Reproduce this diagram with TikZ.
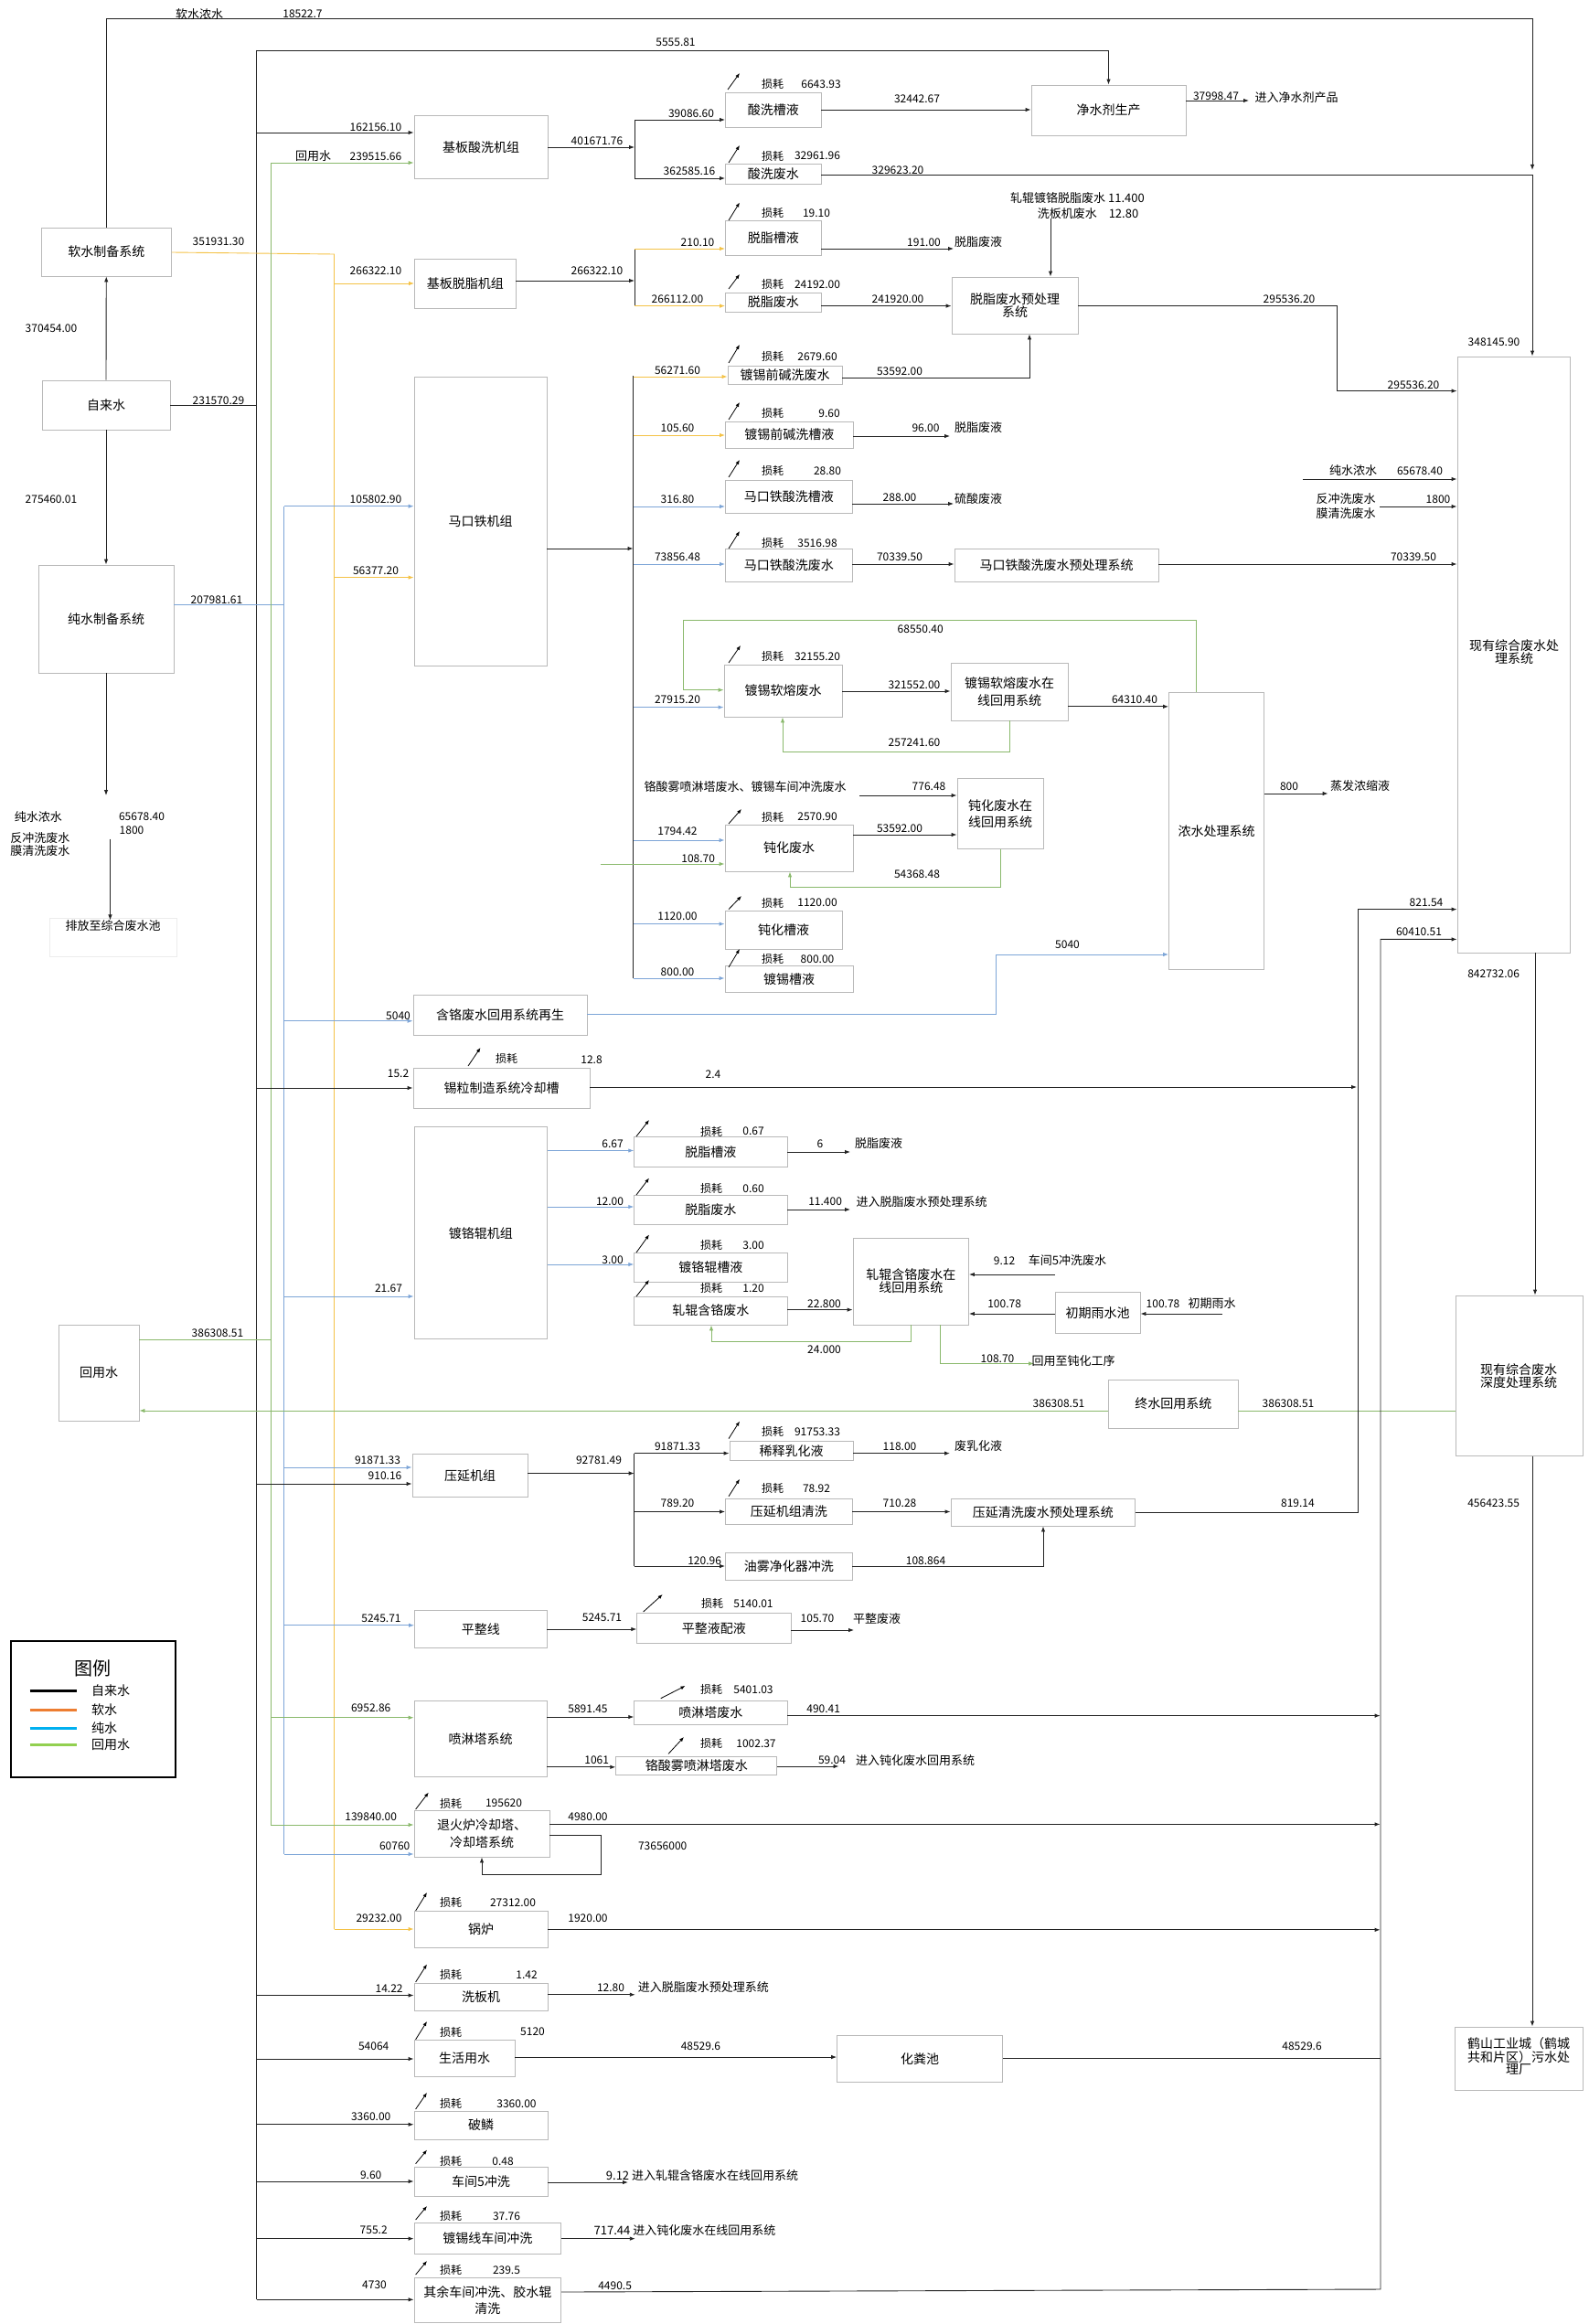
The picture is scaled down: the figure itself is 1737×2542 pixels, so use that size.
\documentclass[tikz,border=0pt]{standalone}
\usepackage{fontspec}
\setmainfont{Noto Sans CJK SC}
\usetikzlibrary{arrows.meta,positioning,calc}
\definecolor{tapc}{RGB}{35,35,35}
\definecolor{softc}{RGB}{244,194,70}
\definecolor{purec}{RGB}{125,165,215}
\definecolor{reusec}{RGB}{138,185,108}
\definecolor{boxc}{RGB}{185,185,185}
\definecolor{legblack}{RGB}{0,0,0}
\definecolor{legorange}{RGB}{237,125,49}
\definecolor{legblue}{RGB}{0,176,240}
\definecolor{leggreen}{RGB}{146,208,80}
\tikzset{
  box/.style     = {draw=boxc, line width=0.9pt, inner sep=1pt, align=center,
                    font=\fontsize{14}{15}\selectfont},
  flow/.style    = {line width=0.9pt, -{Latex[length=6pt,width=4.5pt]}},
  wire/.style    = {line width=0.9pt},
  tap/.style     = {draw=tapc},
  soft/.style    = {draw=softc},
  pure/.style    = {draw=purec},
  reuse/.style   = {draw=reusec},
  num/.style     = {inner sep=0pt, font=\fontsize{12}{12}\selectfont},
  txt/.style     = {inner sep=0pt, font=\fontsize{13}{13}\selectfont},
  lossl/.style   = {inner sep=0pt, font=\fontsize{12}{12}\selectfont},
  lossarr/.style = {line width=0.8pt, -{Latex[length=5pt,width=4pt]}},
  legtxt/.style  = {inner sep=0pt, font=\fontsize{14}{14}\selectfont},
}
% box given by its corners
\newcommand{\blk}[6]{\node[box, minimum width={(#4)-(#2)}, minimum height={(#5)-(#3)}]
  (#1) at ({((#2)+(#4))/2},{((#3)+(#5))/2}) {#6};}
\newcommand{\numat}[3]{\node[num] at (#1,#2) {#3};}
\newcommand{\txtat}[3]{\node[txt] at (#1,#2) {#3};}
\newcommand{\loss}[8]{\draw[lossarr] (#1,#2) -- (#3,#4);
  \node[lossl] at (#5,#6) {损耗}; \node[num] at (#7,#6) {#8};}

\begin{document}
\begin{tikzpicture}[x=1pt, y=-1pt]
\useasboundingbox (0,0) rectangle (1737,2542);

% ---------------- treatment plants ----------------
\blk{purif}{1128}{93}{1297}{148}{净水剂生产}
\blk{wwtp}{1594}{390}{1717.5}{1042}{}
\node[box, draw=none, font=\fontsize{14}{14}\selectfont] (wwtpl) at (1656,713) {现有综合废水处\\理系统};
\blk{deep}{1592.4}{1417}{1731}{1592.5}{}
\node[box, draw=none, font=\fontsize{14}{14}\selectfont] (deepl) at (1661,1505) {现有综合废水\\深度处理系统};
\blk{city}{1591}{2217}{1731}{2286}{}
\node[box, draw=none, font=\fontsize{14}{13}\selectfont] (cityl) at (1661,2249) {鹤山工业城（鹤城\\共和片区）污水处\\理厂};
\draw[flow,tap] (wwtp.south -| 1679,0) -- (deep.north -| 1679,0);
\numat{1633.6}{1065}{842732.06}
\draw[flow,tap] (deep.south -| 1676,0) -- (city.north -| 1676,0);
\numat{1633.6}{1644}{456423.55}

% ---------------- water sources ----------------
\blk{softsys}{45}{249}{187.5}{302}{软水制备系统}
\blk{tapw}{46}{416}{186}{470}{自来水}
\blk{puresys}{42}{618}{190}{736}{纯水制备系统}
\blk{reusew}{64}{1449}{152}{1554}{回用水}
\coordinate (tapbus) at (280.6,55);
\coordinate (reusebus) at (296,178);
\coordinate (purebus) at (310.8,553.7);
\coordinate (softbus) at (365.5,278);
\coordinate (wwtpin) at (1676,191);

\draw[flow,tap] (tapw.north) -- (softsys.south);
\draw[flow,tap] (tapw.south) -- (puresys.north);
\numat{56}{359}{370454.00}
\numat{56}{546}{275460.01}
\draw[wire,tap] (tapw.east |- 0,443.5) -- (tapbus |- 0,443.5);
\numat{239}{438}{231570.29}
\draw[wire,tap] (tapbus) -- (tapbus |- 0,2515.3);
\draw[wire,soft] (softsys.east |- 0,276) -- (softbus) -- (softbus |- 0,2110);
\numat{239}{264}{351931.30}
\draw[wire,pure] (puresys.east |- 0,661) -- (purebus |- 0,661);
\numat{237}{656}{207981.61}
\draw[wire,pure] (purebus) -- (purebus |- 0,2028);
\draw[wire,reuse] (reusew.east |- 0,1465) -- (reusebus |- 0,1465);
\numat{238}{1458}{386308.51}
\draw[wire,reuse] (reusebus) -- (reusebus |- 0,1996);

% pure water concentrate
\draw[flow,tap] (puresys.south) -- (116,870);
\txtat{42}{893.6}{纯水浓水}
\numat{155}{893.6}{65678.40}
\numat{144}{908}{1800}
\txtat{44}{917}{反冲洗废水}
\txtat{44}{930.6}{膜清洗废水}
\draw[gray!15] (54,1004) rectangle (193,1046);
\node[txt] (drain) at (123.6,1012.7) {排放至综合废水池};
\draw[flow,tap] (120.5,917.6) -- (drain.north -| 120.5,0);

% soft water concentrate
\draw[flow,tap] (softsys.north) |- (1676,20.4) -- (1676,186);
\txtat{218}{15.5}{软水浓水}
\numat{331}{15.5}{18522.7}
\draw[flow,tap] (tapbus) -| (purif.north);
\numat{739}{46}{5555.81}

% ---------------- pickling ----------------
\blk{acidu}{453}{126.5}{599}{195}{基板酸洗机组}
\blk{pickle}{793.5}{101}{898}{139}{酸洗槽液}
\blk{pickww}{793.5}{179.5}{898}{201}{酸洗废水}
\draw[flow,tap] (tapbus |- 0,145) -- (acidu.west |- 0,145);
\numat{411}{139}{162156.10}
\draw[flow,reuse] (reusebus) -- (acidu.west |- reusebus);
\txtat{342.5}{171}{回用水}
\numat{411}{171}{239515.66}
\draw[flow,tap] (acidu.east |- 0,161) -- (694,161);
\numat{653}{154}{401671.76}
\draw[wire,tap] (694,131) -- (694,195);
\draw[flow,tap] (694,131) -- (pickle.west |- 0,131);
\numat{756}{124}{39086.60}
\draw[flow,tap] (694,195) -- (pickww.west |- 0,195);
\numat{754}{187}{362585.16}
\loss{796}{98}{809}{80}{845}{92}{898}{6643.93}
\loss{797}{178}{809}{159}{845}{170.5}{894}{32961.96}
\draw[flow,tap] (pickle.east) -- (purif.west |- pickle.east);
\numat{1003}{108.5}{32442.67}
\draw[flow,tap] (purif.east |- 0,110) -- (1366,110);
\numat{1330}{105}{37998.47}
\txtat{1418}{107}{进入净水剂产品}
\draw[wire,tap] (pickww.east |- wwtpin) -- (wwtpin);
\draw[flow,tap] (wwtpin) -- (wwtp.north -| wwtpin);
\numat{982}{186}{329623.20}

% ---------------- degreasing ----------------
\blk{degu}{453.5}{283}{564}{337}{基板脱脂机组}
\blk{degb}{793.5}{241}{898}{279.5}{脱脂槽液}
\blk{degww}{793.5}{320}{898}{341}{脱脂废水}
\blk{degpre}{1041}{303}{1179}{365}{脱脂废水预处理\\[-1pt]系统}
\draw[flow,soft] (softbus |- 0,310) -- (degu.west |- 0,310);
\numat{411}{296}{266322.10}
\draw[flow,tap] (degu.east |- 0,307) -- (694,307);
\numat{653}{296}{266322.10}
\draw[wire,tap] (694,272) -- (694,334.6);
\draw[flow,soft] (694,272) -- (degb.west |- 0,272);
\numat{763}{265}{210.10}
\draw[flow,soft] (694,334.6) -- (degww.west |- 0,334.6);
\numat{741}{327.6}{266112.00}
\loss{797}{241}{809}{221.5}{845}{233}{893}{19.10}
\loss{797}{316}{809}{300}{845}{311}{894}{24192.00}
\draw[flow,tap] (degb.east |- 0,272) -- (1043,272);
\numat{1010.5}{265}{191.00}
\txtat{1070}{265}{脱脂废液}
\draw[flow,tap] (degww.east |- 0,334.6) -- (degpre.west |- 0,334.6);
\numat{982}{327.6}{241920.00}
\draw[flow,tap] (1149,239) -- (degpre.north -| 1149,0);
\txtat{1178.5}{217}{轧辊镀铬脱脂废水 11.400}
\txtat{1190}{234}{洗板机废水\quad 12.80}
\draw[flow,tap] (degpre.east |- 0,334) -- (1462,334) -- (1462,427.6) -- (wwtp.west |- 0,427.6);
\numat{1410}{327}{295536.20}
\numat{1546}{421.5}{295536.20}
\numat{1634}{374}{348145.90}

% ---------------- tinplate line ----------------
\blk{tinu}{453}{412}{598}{728}{马口铁机组}
\blk{alkww}{796}{400}{921}{420}{镀锡前碱洗废水}
\blk{alkb}{793.5}{461}{933}{490}{镀锡前碱洗槽液}
\blk{tinpb}{793.5}{525}{932}{561}{马口铁酸洗槽液}
\blk{tinpw}{793.5}{600.6}{932}{636}{马口铁酸洗废水}
\blk{tinpre}{1044}{600.6}{1267}{636}{马口铁酸洗废水预处理系统}
\draw[flow,pure] (purebus) -- (tinu.west |- purebus);
\numat{411}{546}{105802.90}
\draw[flow,soft] (softbus |- 0,631.6) -- (tinu.west |- 0,631.6);
\numat{411}{624}{56377.20}
\draw[flow,tap] (tinu.east |- 0,600) -- (692.5,600);
\draw[wire,tap] (692.5,411) -- (692.5,1070);
\draw[flow,soft] (692.5,412) -- (alkww.west |- 0,412);
\numat{741}{405}{56271.60}
\loss{797}{397}{809}{377}{845}{390}{894}{2679.60}
\draw[flow,tap] (alkww.east |- 0,413) -| (degpre.south -| 1126,0);
\numat{984}{406}{53592.00}
\draw[flow,soft] (692.5,476) -- (alkb.west |- 0,476);
\numat{741}{468}{105.60}
\loss{797}{459}{809}{440}{845}{452}{907}{9.60}
\draw[flow,tap] (alkb.east |- 0,477) -- (1039,477);
\numat{1012.5}{468}{96.00}
\txtat{1070}{468}{脱脂废液}
\draw[flow,pure] (692.5,554) -- (tinpb.west |- 0,554);
\numat{741}{546}{316.80}
\loss{797}{522}{809}{503}{845}{515}{905}{28.80}
\draw[flow,tap] (tinpb.east |- 0,551) -- (1043,551);
\numat{984}{544}{288.00}
\txtat{1070}{546}{硫酸废液}
\draw[flow,pure] (692.5,617) -- (tinpw.west |- 0,617);
\numat{741}{609}{73856.48}
\loss{797}{600}{809}{581}{845}{594}{894}{3516.98}
\draw[flow,tap] (tinpw.east |- 0,617) -- (tinpre.west |- 0,617);
\numat{984}{609}{70339.50}
\draw[flow,tap] (tinpre.east |- 0,617) -- (wwtp.west |- 0,617);
\numat{1546}{609}{70339.50}
\draw[flow,tap] (1425,524) -- (wwtp.west |- 0,524);
\txtat{1480}{515}{纯水浓水}
\numat{1553}{515}{65678.40}
\txtat{1472}{546}{反冲洗废水}
\txtat{1472}{562}{膜清洗废水}
\numat{1573}{546}{1800}
\draw[flow,tap] (1509,554) -- (wwtp.west |- 0,554);

% reflow
\blk{reflow}{792}{727}{921}{784}{镀锡软熔废水}
\blk{reflowre}{1040}{725}{1168}{788}{镀锡软熔废水在\\[4pt]线回用系统}
\blk{conc}{1278.5}{757}{1382.6}{1060.7}{浓水处理系统}
\draw[flow,pure] (692.5,773.6) -- (reflow.west |- 0,773.6);
\numat{741}{765}{27915.20}
\loss{797}{725}{810}{706}{845}{718}{894}{32155.20}
\draw[flow,reuse] (conc.north -| 1308,0) |- (747,678) |- (reflow.west |- 0,754.7);
\numat{1006.7}{688}{68550.40}
\draw[flow,tap] (reflow.east |- 0,756) -- (reflowre.west |- 0,756);
\numat{1000}{749}{321552.00}
\draw[flow,reuse] (reflowre.south -| 1104,0) |- (856,822) -- (reflow.south -| 856,0);
\numat{1000}{812}{257241.60}
\draw[flow,tap] (reflowre.east |- 0,772.8) -- (conc.west |- 0,772.8);
\numat{1241}{765}{64310.40}
\draw[flow,tap] (conc.east |- 0,868) -- (1452.6,868);
\numat{1410}{860}{800}
\txtat{1487.5}{860}{蒸发浓缩液}

% passivation
\blk{passw}{793}{902}{933}{953}{钝化废水}
\blk{passre}{1047}{851.5}{1141}{928.5}{钝化废水在\\[3pt]线回用系统}
\blk{passb}{793}{996}{921}{1038}{钝化槽液}
\blk{tinb}{793}{1056.5}{933}{1085}{镀锡槽液}
\txtat{815}{860}{铬酸雾喷淋塔废水、镀锡车间冲洗废水}
\draw[flow,tap] (940,870) -- (passre.west |- 0,870);
\numat{1016}{860}{776.48}
\draw[flow,pure] (692.5,919) -- (passw.west |- 0,919);
\numat{741}{909}{1794.42}
\draw[flow,reuse] (656.5,945) -- (passw.west |- 0,945);
\numat{763.7}{939}{108.70}
\loss{797}{901}{811}{885}{845}{893.6}{894}{2570.90}
\draw[flow,tap] (passw.east |- 0,913) -- (passre.west |- 0,913);
\numat{984}{906}{53592.00}
\draw[flow,reuse] (passre.south -| 1094,0) |- (864,970.6) -- (passw.south -| 864,0);
\numat{1003}{956}{54368.48}
\draw[flow,pure] (692.5,1010.6) -- (passb.west |- 0,1010.6);
\numat{741}{1002}{1120.00}
\loss{797}{994.6}{811}{980}{845}{987.5}{894}{1120.00}
\draw[flow,pure] (692.5,1070) -- (tinb.west |- 0,1070);
\numat{741}{1063}{800.00}
\loss{797}{1058}{809}{1038}{845}{1049}{894}{800.00}

% ---------------- chromium recovery, cooling tank ----------------
\blk{crreg}{452}{1088}{642}{1132}{含铬废水回用系统再生}
\blk{cool}{452}{1168}{645}{1212.6}{锡粒制造系统冷却槽}
\draw[flow,pure] (purebus |- 0,1116.7) -- (crreg.west |- 0,1116.7);
\numat{435.5}{1111}{5040}
\draw[flow,pure] (crreg.east |- 0,1109.5) -| (1089,1044) -- (conc.west |- 0,1044);
\numat{1167.5}{1033.7}{5040}
\draw[flow,tap] (tapbus |- 0,1190) -- (cool.west |- 0,1190);
\numat{435.5}{1174.7}{15.2}
\draw[lossarr] (512,1166) -- (525.5,1146);
\node[lossl] at (554,1158) {损耗};
\numat{647}{1159}{12.8}
\draw[flow,tap] (cool.east |- 0,1189) -- (1484,1189);
\numat{780}{1175.6}{2.4}

% ---------------- chrome roll line ----------------
\blk{chru}{453}{1232.6}{598.5}{1464.6}{镀铬辊机组}
\blk{crdegb}{693.7}{1243}{861}{1276.6}{脱脂槽液}
\blk{crdegw}{693.7}{1307}{861}{1339}{脱脂废水}
\blk{crb}{693.7}{1370}{861}{1402}{镀铬辊槽液}
\blk{crw}{693.7}{1418}{861}{1449}{轧辊含铬废水}
\blk{crre}{933}{1354}{1059.5}{1449}{轧辊含铬废水在\\[-1pt]线回用系统}
\blk{rain}{1154}{1413.6}{1247}{1458.7}{初期雨水池}
\draw[flow,pure] (purebus |- 0,1418) -- (chru.west |- 0,1418);
\numat{425}{1409}{21.67}
\draw[flow,pure] (chru.east |- 0,1258.5) -- (crdegb.west |- 0,1258.5);
\numat{670}{1251}{6.67}
\loss{696}{1243}{710}{1225}{778}{1237.5}{824}{0.67}
\draw[flow,tap] (crdegb.east |- 0,1260) -- (930,1260);
\numat{897}{1251}{6}
\txtat{961}{1251}{脱脂废液}
\draw[flow,pure] (chru.east |- 0,1320) -- (crdegw.west |- 0,1320);
\numat{667}{1314.7}{12.00}
\loss{696}{1307}{710}{1288.6}{778}{1300}{824}{0.60}
\draw[flow,tap] (crdegw.east |- 0,1323) -- (930,1323);
\numat{902.6}{1314.7}{11.400}
\txtat{1008}{1314.7}{进入脱脂废水预处理系统}
\draw[flow,pure] (chru.east |- 0,1383) -- (crb.west |- 0,1383);
\numat{670}{1378.7}{3.00}
\loss{696}{1370}{710}{1350.5}{778}{1362}{824}{3.00}
\loss{696}{1418}{710}{1400}{778}{1409}{824}{1.20}
\draw[flow,tap] (crw.east |- 0,1432.6) -- (crre.west |- 0,1432.6);
\numat{901.5}{1426}{22.800}
\draw[flow,reuse] (crre.south -| 996,0) |- (778,1467.5) -- (crw.south -| 778,0);
\numat{901.5}{1476}{24.000}
\draw[flow,reuse] (crre.south -| 1028.5,0) |- (1131,1491.5);
\numat{1091}{1486}{108.70}
\txtat{1174}{1488.6}{回用至钝化工序}
\draw[flow,tap] (1154,1394) -- (crre.east |- 0,1394);
\numat{1098.6}{1379}{9.12}
\txtat{1167.5}{1379}{车间5冲洗废水}
\draw[flow,tap] (rain.west |- 0,1437) -- (crre.east |- 0,1437);
\numat{1098.6}{1426}{100.78}
\draw[flow,tap] (1336.6,1437) -- (rain.east |- 0,1437);
\numat{1272}{1426}{100.78}
\txtat{1325.6}{1426}{初期雨水}

% final reuse loop
\blk{final}{1212.6}{1509}{1354}{1562}{终水回用系统}
\draw[wire,reuse] (deep.west |- 0,1543) -- (final.east |- 0,1543);
\numat{1409}{1535}{386308.51}
\draw[flow,reuse] (final.west |- 0,1543) -- (reusew.east |- 0,1543);
\numat{1158}{1535}{386308.51}

% ---------------- rolling ----------------
\blk{rollu}{451}{1590}{577}{1637.5}{压延机组}
\blk{emul}{798}{1576.5}{933}{1597.6}{稀释乳化液}
\blk{rollw}{793.5}{1639}{932}{1667.4}{压延机组清洗}
\blk{oilw}{793.5}{1698.6}{932}{1728.5}{油雾净化器冲洗}
\blk{rollpre}{1040}{1639}{1241.7}{1669}{压延清洗废水预处理系统}
\draw[flow,pure] (purebus |- 0,1605) -- (rollu.west |- 0,1605);
\numat{413}{1597}{91871.33}
\draw[flow,tap] (tapbus |- 0,1623) -- (rollu.west |- 0,1623);
\numat{421}{1614}{910.16}
\draw[flow,tap] (rollu.east |- 0,1611.5) -- (693.7,1611.5);
\numat{655}{1597}{92781.49}
\draw[wire,tap] (693.7,1589.6) -- (693.7,1713);
\draw[flow,tap] (693.7,1589.6) -- (emul.west |- 0,1589.6);
\numat{741}{1582}{91871.33}
\loss{797}{1573.6}{809}{1554.6}{845}{1566}{894}{91753.33}
\draw[flow,tap] (emul.east |- 0,1589.6) -- (1039,1589.6);
\numat{984}{1582}{118.00}
\txtat{1070}{1582}{废乳化液}
\draw[flow,tap] (693.7,1653.5) -- (rollw.west |- 0,1653.5);
\numat{741}{1644}{789.20}
\loss{797}{1636.7}{809}{1617.8}{845}{1628}{893}{78.92}
\draw[flow,tap] (rollw.east |- 0,1653.5) -- (rollpre.west |- 0,1653.5);
\numat{984}{1644}{710.28}
\draw[flow,tap] (693.7,1713) -- (oilw.west |- 0,1713);
\numat{770.6}{1707}{120.96}
\draw[flow,tap] (oilw.east |- 0,1713.7) -| (rollpre.south -| 1141,0);
\numat{1012.5}{1707}{108.864}
\draw[flow,tap] (rollpre.east |- 0,1654.8) -| (1485,994.6) -- (wwtp.west |- 0,994.6);
\numat{1419.4}{1644}{819.14}
\numat{1560}{987.5}{821.54}

% ---------------- skin pass ----------------
\blk{flat}{453.5}{1761.7}{598}{1802}{平整线}
\blk{flatmix}{696.7}{1764}{865}{1797.5}{平整液配液}
\draw[flow,pure] (purebus |- 0,1777.7) -- (flat.west |- 0,1777.7);
\numat{417}{1770}{5245.71}
\draw[flow,tap] (flat.east |- 0,1782) -- (flatmix.west |- 0,1782);
\numat{658.5}{1769}{5245.71}
\loss{703.6}{1763}{724.7}{1744}{779}{1753.7}{824}{5140.01}
\draw[flow,tap] (flatmix.east |- 0,1783) -- (934,1783);
\numat{894}{1770.6}{105.70}
\txtat{959}{1770.6}{平整废液}

% ---------------- spray tower ----------------
\blk{spray}{453}{1860.6}{598}{1943}{喷淋塔系统}
\blk{spw}{693.7}{1860.6}{861}{1886}{喷淋塔废水}
\blk{crspw}{673.8}{1921}{849.8}{1941.8}{铬酸雾喷淋塔废水}
\draw[flow,reuse] (reusebus |- 0,1878.7) -- (spray.west |- 0,1878.7);
\numat{405.7}{1868}{6952.86}
\draw[flow,tap] (spray.east |- 0,1878) -- (spw.west |- 0,1878);
\numat{643}{1869}{5891.45}
\loss{722.7}{1857.7}{749.5}{1844}{778}{1848.4}{824}{5401.03}
\draw[flow,tap] (spw.east |- 0,1876.6) -- (1509.6,1876.6);
\numat{900.7}{1869}{490.41}
\draw[flow,tap] (spray.east |- 0,1932.8) -- (crspw.west |- 0,1932.8);
\numat{652.7}{1925.4}{1061}
\loss{731}{1918.4}{748}{1900}{778}{1907.4}{827}{1002.37}
\draw[flow,tap] (crspw.east |- 0,1932) -- (917.5,1932);
\numat{910}{1925.4}{59.04}
\txtat{1001}{1925.4}{进入钝化废水回用系统}

% ---------------- annealing cooling tower, boiler ----------------
\blk{anneal}{453}{1980.7}{601}{2031}{退火炉冷却塔、\\[4pt]冷却塔系统}
\blk{boiler}{453}{2090}{599}{2130}{锅炉}
\draw[flow,reuse] (reusebus |- 0,1996) -- (anneal.west |- 0,1996);
\numat{405.7}{1987}{139840.00}
\draw[flow,pure] (purebus |- 0,2028) -- (anneal.west |- 0,2028);
\numat{431.7}{2018.7}{60760}
\loss{454.6}{1979}{468.8}{1960.6}{493}{1972.5}{551}{195620}
\draw[flow,tap] (anneal.east |- 0,1995.4) -- (1509.6,1995.4);
\numat{643}{1987}{4980.00}
\draw[flow,tap] (anneal.east |- 0,2007.7) -| (657.3,2050) -| (anneal.south -| 527,0);
\numat{724.7}{2018.7}{73656000}
\draw[flow,soft] (softbus |- 0,2110) -- (boiler.west |- 0,2110);
\numat{414.5}{2097.7}{29232.00}
\loss{454.6}{2090}{467}{2070}{493}{2081}{561}{27312.00}
\draw[flow,tap] (boiler.east |- 0,2110.8) -- (1509.6,2110.8);
\numat{643}{2097.7}{1920.00}

% ---------------- small users ----------------
\blk{washer}{453}{2169}{599}{2199}{洗板机}
\blk{life}{453}{2231.6}{563}{2271.7}{生活用水}
\blk{septic}{915.6}{2226.7}{1096.6}{2277.5}{化粪池}
\blk{scale}{453}{2309}{599}{2340}{破鳞}
\blk{ws5}{453}{2370.8}{599}{2402}{车间5冲洗}
\blk{tinws}{453}{2431}{613.7}{2465}{镀锡线车间冲洗}
\blk{other}{453}{2491.6}{613.7}{2540.7}{其余车间冲洗、胶水辊\\[3pt]清洗}
\draw[flow,tap] (tapbus |- 0,2182.5) -- (washer.west |- 0,2182.5);
\numat{425.6}{2175}{14.22}
\loss{454.6}{2168}{467}{2148.5}{493}{2160}{576}{1.42}
\draw[flow,tap] (washer.east |- 0,2181.7) -- (694.8,2181.7);
\numat{668}{2174}{12.80}
\txtat{769.4}{2174}{进入脱脂废水预处理系统}
\draw[flow,tap] (tapbus |- 0,2252) -- (life.west |- 0,2252);
\numat{408.7}{2237.8}{54064}
\loss{454.6}{2230.8}{467}{2211}{493}{2222.6}{582.5}{5120}
\draw[flow,tap] (life.east |- 0,2250) -- (septic.west |- 0,2250);
\numat{766.4}{2237.8}{48529.6}
\draw[wire,tap] (septic.east |- 0,2251) -- (1510,2251);
\numat{1424}{2237.8}{48529.6}
\draw[flow,tap] (tapbus |- 0,2323.7) -- (scale.west |- 0,2323.7);
\numat{405.7}{2315.5}{3360.00}
\loss{454.6}{2307}{467}{2289}{493}{2301}{565}{3360.00}
\draw[flow,tap] (tapbus |- 0,2386) -- (ws5.west |- 0,2386);
\numat{405.7}{2379}{9.60}
\loss{454.6}{2366.7}{467}{2351.6}{493}{2364}{550}{0.48}
\draw[flow,tap] (ws5.east |- 0,2387) -- (687,2387);
\txtat{768}{2379}{9.12 进入轧辊含铬废水在线回用系统}
\draw[flow,tap] (tapbus |- 0,2448.6) -- (tinws.west |- 0,2448.6);
\numat{408.7}{2439.6}{755.2}
\loss{454.6}{2428}{467}{2413}{493}{2424}{554}{37.76}
\draw[flow,tap] (tinws.east |- 0,2448.6) -- (694.8,2448.6);
\txtat{749}{2439.6}{717.44 进入钝化废水在线回用系统}
\draw[flow,tap] (tapbus |- 0,2515.3) -- (other.west |- 0,2515.3);
\numat{409.5}{2499}{4730}
\loss{454.6}{2488}{467}{2473}{493}{2483}{554}{239.5}
\draw[flow,tap] (other.east |- 0,2507) -- (1510,2504) -- (1510,1027.4) -- (wwtp.west |- 0,1027.4);
\numat{672.6}{2499.8}{4490.5}
\numat{1552}{1019}{60410.51}

% ---------------- legend ----------------
\node[draw, line width=1.2pt, minimum width=180, minimum height=149, inner sep=0pt] (legend) at (102,1869.5) {};
\node[inner sep=0pt, font=\fontsize{20}{20}\selectfont] (legtitle) at (101,1825) {图例};
\foreach \yy/\cc/\lname in {1849/legblack/自来水, 1870/legorange/软水, 1890/legblue/纯水, 1908/leggreen/回用水} {
  \draw[line width=3pt, draw=\cc] (32.5,\yy) -- (84,\yy);
  \node[legtxt, anchor=west] at (100,\yy) {\lname};
}
\end{tikzpicture}
\end{document}
